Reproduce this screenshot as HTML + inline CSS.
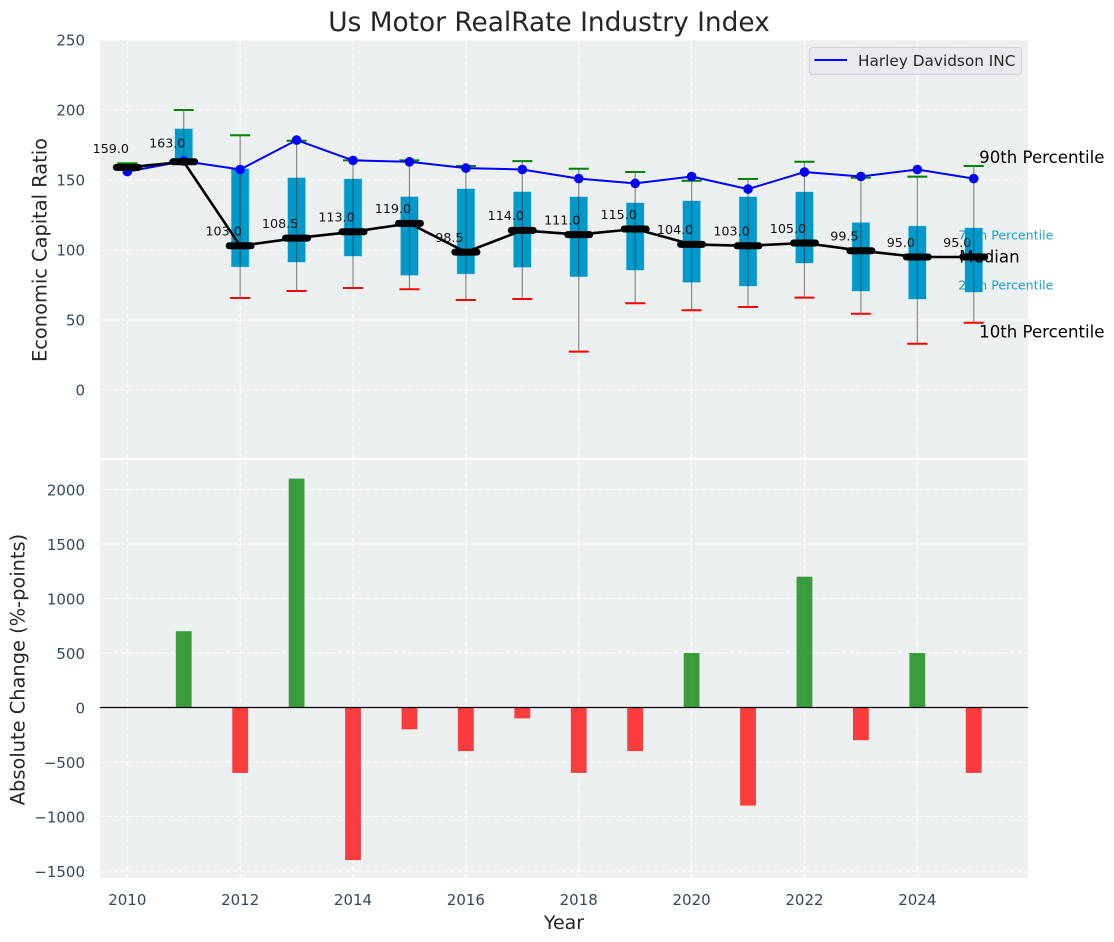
<!DOCTYPE html>
<html lang="en">
<head>
<meta charset="utf-8">
<title>Us Motor RealRate Industry Index</title>
<style>
html,body{margin:0;padding:0;background:#fff;}
svg{display:block;font-family:"DejaVu Sans","Liberation Sans",sans-serif;}
</style>
</head>
<body>
<svg id="chart" xmlns="http://www.w3.org/2000/svg" width="1114" height="942" viewBox="0 0 1114 942">
  <rect x="0" y="0" width="1114" height="942" fill="#ffffff"/>
  <rect x="100" y="40" width="928" height="418" fill="#ecf0f1"/>
  <rect x="100" y="460" width="928" height="418" fill="#ecf0f1"/>
  <g id="grid"></g>
  <g id="boxes"></g>
  <g id="company"></g>
  <g id="median"></g>
  <g id="bars"></g>
  <g id="ticks"></g>
  <g id="notes"></g>
  <text x="549" y="31" text-anchor="middle" font-size="26.4" fill="#262626">Us Motor RealRate Industry Index</text>
  <text transform="translate(46.5,250) rotate(-90)" text-anchor="middle" font-size="19.4" fill="#262626">Economic Capital Ratio</text>
  <text transform="translate(24.5,669.5) rotate(-90)" text-anchor="middle" font-size="19.4" fill="#262626">Absolute Change (%-points)</text>
  <text x="564" y="929" text-anchor="middle" font-size="19" fill="#262626">Year</text>
  <g>
    <rect x="809.5" y="47.5" width="212" height="27" rx="3" fill="#e8eaef" stroke="#d2d3d6" stroke-width="1"/>
    <line x1="814.5" y1="60" x2="847" y2="60" stroke="#0000ff" stroke-width="2"/>
    <text x="858" y="66" font-size="15.3" fill="#262626">Harley Davidson INC</text>
  </g>
</svg>
<script>
const years = [2010,2011,2012,2013,2014,2015,2016,2017,2018,2019,2020,2021,2022,2023,2024,2025];
const p90 = [162,200,182,178,164,164,160,163.5,158,155.7,149.5,150.7,163,151.6,152.4,160];
const p75 = [159,186.5,158,151.5,150.7,138,143.6,141.5,137.9,133.6,135,137.9,141.4,119.5,117,115.7];
const p25 = [159,163,88,91.4,95.7,82,83,87.7,81,85.7,77,74.3,90.7,70.7,65,70];
const p10 = [159,163,65.7,70.7,72.9,72,64.3,65,27.4,62,57,59.3,66,54.5,33,48];
const medianValues = [159,163,103,108.5,113,119,98.5,114,111,115,104,103,105,99.5,95,95];
const companyValues = [156,163.5,157.5,178.5,164,163,158.5,157.5,151,147.6,152.5,143.5,155.7,152.5,157.5,151];
const changeValues = [0,700,-600,2100,-1400,-200,-400,-100,-600,-400,500,-900,1200,-300,500,-600];
const xTickLabels = [2010,2012,2014,2016,2018,2020,2022,2024];
const topYTicks = [0,50,100,150,200,250];
const bottomYTicks = [-1500,-1000,-500,0,500,1000,1500,2000];

const NS = 'http://www.w3.org/2000/svg';
const x = function(year){ return 127.3 + (year - 2010) * 56.43; };
const yTop = function(v){ return 390 - v * 1.4; };
const yBottom = function(v){ return 707.5 - v * 0.109; };

function make(parent, tag, props, content){
  const el = document.createElementNS(NS, tag);
  for (const k in props) el.setAttribute(k, props[k]);
  if (content !== undefined) el.textContent = content;
  document.getElementById(parent).appendChild(el);
  return el;
}

/* grid */
xTickLabels.forEach(function(t){
  [[40,458],[460,878]].forEach(function(r){
    const el = make('grid','line',{x1:x(t),x2:x(t),y1:r[0],y2:r[1],stroke:'#ffffff','stroke-width':1,'stroke-dasharray':'5 2','stroke-opacity':0.85});
    
    
  });
});
topYTicks.forEach(function(t){
  const el = make('grid','line',{x1:100,x2:1028,y1:yTop(t),y2:yTop(t),stroke:'#ffffff','stroke-width':1,'stroke-dasharray':'5 2','stroke-opacity':0.85});
  
  
});
bottomYTicks.forEach(function(t){
  const el = make('grid','line',{x1:100,x2:1028,y1:yBottom(t),y2:yBottom(t),stroke:'#ffffff','stroke-width':1,'stroke-dasharray':'5 2','stroke-opacity':0.85});
  
  
});

/* boxes + whiskers */
years.forEach(function(year, i){
  const cx = x(year);
  const box = make('boxes','rect',{x:cx-8.7,y:yTop(p75[i]),width:17.4,height:yTop(p25[i])-yTop(p75[i]),fill:'#0099cc',stroke:'#0099cc','stroke-opacity':0.3,'stroke-width':1});
  
  
  const whisker = make('boxes','line',{x1:cx,x2:cx,y1:yTop(p90[i]),y2:yTop(p10[i]),stroke:'#333333','stroke-opacity':0.55,'stroke-width':1.2});
  
  
  const capHigh = make('boxes','line',{x1:cx-10,x2:cx+10,y1:yTop(p90[i]),y2:yTop(p90[i]),stroke:'#008000','stroke-width':2});
  
  
  const capLow = make('boxes','line',{x1:cx-10,x2:cx+10,y1:yTop(p10[i]),y2:yTop(p10[i]),stroke:'#ff0000','stroke-width':2});
  
  
});

/* company line */
const companyLine = make('company','polyline',{points:years.map(function(yr,i){return x(yr)+','+yTop(companyValues[i]);}).join(' '),fill:'none',stroke:'#0000ff','stroke-width':2,'stroke-linejoin':'round'});


years.forEach(function(yr,i){
  const dot = make('company','circle',{cx:x(yr),cy:yTop(companyValues[i]),r:4.8,fill:'#0000ff'});
  
  
});

/* median line */
const medianLine = make('median','polyline',{points:years.map(function(yr,i){return x(yr)+','+yTop(medianValues[i]);}).join(' '),fill:'none',stroke:'#000000','stroke-width':2.6,'stroke-linejoin':'round'});


years.forEach(function(yr,i){
  const cx = x(yr), cy = yTop(medianValues[i]);
  const mark = make('median','line',{x1:cx-11,x2:cx+11,y1:cy,y2:cy,stroke:'#000000','stroke-width':7,'stroke-linecap':'round'});
  
  
  const lift = i < 2 ? 14.2 : 10.2;
  const label = make('median','text',{x:cx-16.5,y:cy-lift,'text-anchor':'middle','font-size':12.7,fill:'#111111'},medianValues[i].toFixed(1));
  
  
});

/* change bars */
years.forEach(function(yr,i){
  const v = changeValues[i];
  if (v === 0) return;
  const top = Math.min(yBottom(v), yBottom(0));
  const bar = make('bars','rect',{x:x(yr)-7.9,y:top,width:15.8,height:Math.abs(yBottom(v)-yBottom(0)),fill:v>0?'#008000':'#ff0000','fill-opacity':0.75});
  
  
});
const zeroLine = make('bars','line',{x1:100,x2:1028,y1:yBottom(0),y2:yBottom(0),stroke:'#000000','stroke-width':1.2});



/* tick labels */
xTickLabels.forEach(function(t){
  const el = make('ticks','text',{x:x(t),y:905,'text-anchor':'middle','font-size':15,fill:'#34495e'},String(t));
  
  
});
topYTicks.forEach(function(t){
  const el = make('ticks','text',{x:85,y:yTop(t)+5.4,'text-anchor':'end','font-size':15,fill:'#34495e'},String(t));
  
  
});
bottomYTicks.forEach(function(t){
  const el = make('ticks','text',{x:85,y:yBottom(t)+6.2,'text-anchor':'end','font-size':15,fill:'#34495e'},String(t).replace('-','\u2212'));
  
  
});

/* percentile annotations at the last year */
const lastIndex = years.length - 1;
const lastX = x(years[lastIndex]);
const note90 = make('notes','text',{x:lastX+5.4,y:yTop(p90[lastIndex])-3,'font-size':16.6,fill:'#000000'},'90th Percentile');


const note10 = make('notes','text',{x:lastX+5.4,y:yTop(p10[lastIndex])+14.5,'font-size':16.6,fill:'#000000'},'10th Percentile');


const noteMedian = make('notes','text',{x:lastX-14.5,y:yTop(medianValues[lastIndex])+5.5,'font-size':16.6,fill:'#000000'},'Median');


const note75 = make('notes','text',{x:lastX-15.5,y:yTop(p75[lastIndex])+11.3,'font-size':12.6,fill:'#0099cc','fill-opacity':0.9},'75th Percentile');


const note25 = make('notes','text',{x:lastX-15.5,y:yTop(p25[lastIndex])-2.7,'font-size':12.6,fill:'#0099cc','fill-opacity':0.9},'25th Percentile');


</script>
</body>
</html>
